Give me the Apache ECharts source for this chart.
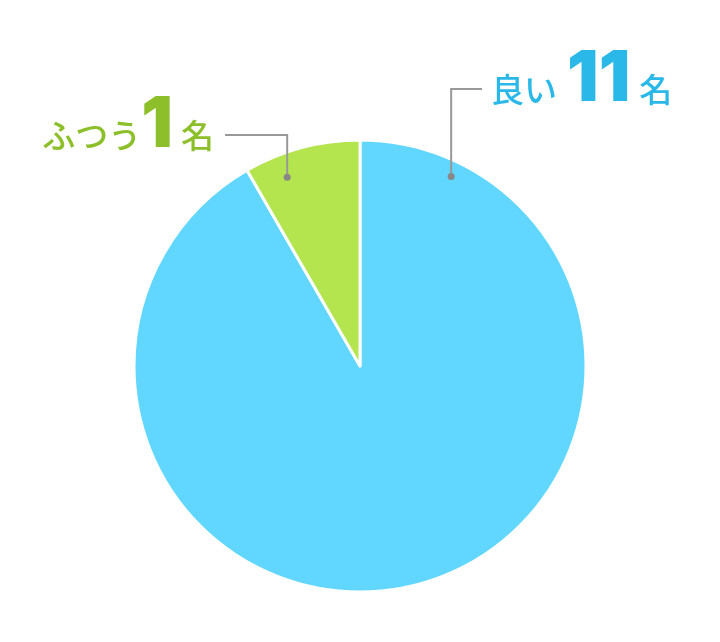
<!DOCTYPE html>
<html><head><meta charset="utf-8">
<script src="https://cdn.jsdelivr.net/npm/echarts@6/dist/echarts.min.js"></script>
<style>html,body{margin:0;padding:0;background:#fff}#c{width:720px;height:642px}</style>
</head><body><div id="c"></div>
<script>
const categories = ['良い', 'ふつう'];
const counts = [11, 1];
const unit = '名';

const sliceColors = ['#61d7ff', '#b4e54f'];
const textColors = ['#2ab8e8', '#8cbf2a'];

const CX = 360, CY = 366, R = 226;
// leader line anchors: angle from 12 o'clock (deg, clockwise), radius fraction, elbow y, end x, label x
const leaders = [
  { ang: 25.7, frac: 0.93, elbowY: 89, endX: 482, labelX: 491, align: 'left', numPad: [0, 9, 0, 10] },
  { ang: -21.1, frac: 0.895, elbowY: 135, endX: 225, labelX: 214, align: 'right', numPad: [0, 8, 0, 0] }
];
function anchor(i) {
  const l = leaders[i];
  const a = l.ang * Math.PI / 180;
  return [CX + Math.sin(a) * R * l.frac, CY - Math.cos(a) * R * l.frac];
}

const chart = echarts.init(document.getElementById('c'), null, { renderer: 'canvas' });
const cjk = '"Noto Sans CJK JP", "Noto Sans", sans-serif';
function rich(i) {
  return {
    t: { fontFamily: cjk, fontWeight: 500, fontSize: 33, color: textColors[i], lineHeight: 60, verticalAlign: 'bottom', padding: [0, 0, 9, 0] },
    n: { fontFamily: 'Inter, Roboto, sans-serif', fontWeight: 900, fontSize: 70, color: textColors[i], lineHeight: 69, verticalAlign: 'bottom', padding: leaders[i].numPad },
    u: { fontFamily: cjk, fontWeight: 500, fontSize: 33, color: textColors[i], lineHeight: 60, verticalAlign: 'bottom', padding: [0, 0, 9, 0] }
  };
}
const data = categories.map((c, i) => ({
  name: c, value: counts[i],
  itemStyle: { color: sliceColors[i] },
  label: { rich: rich(i) }
}));

chart.setOption({
  animation: false,
  backgroundColor: '#fff',
  series: [{
    type: 'pie',
    center: [CX, CY],
    radius: R,
    startAngle: 90,
    clockwise: true,
    data: data,
    itemStyle: { borderColor: '#fff', borderWidth: 3 },
    label: {
      show: true,
      formatter: p => '{t|' + p.name + '}{n|' + p.value + '}{u|' + unit + '}'
    },
    labelLine: { show: false },
    labelLayout: function (p) {
      const l = leaders[p.dataIndex];
      return { x: l.labelX, y: l.elbowY - 9, align: l.align, verticalAlign: 'middle' };
    },
    emphasis: { disabled: true }
  }],
  graphic: {
    elements: leaders.flatMap((l, i) => {
      const a = anchor(i);
      return [
        { type: 'polyline', z: 100, shape: { points: [a, [a[0], l.elbowY], [l.endX, l.elbowY]] }, style: { stroke: '#999', lineWidth: 2, fill: null } },
        { type: 'circle', z: 101, shape: { cx: a[0], cy: a[1], r: 3.5 }, style: { fill: '#888' } }
      ];
    })
  }
});
</script></body></html>
